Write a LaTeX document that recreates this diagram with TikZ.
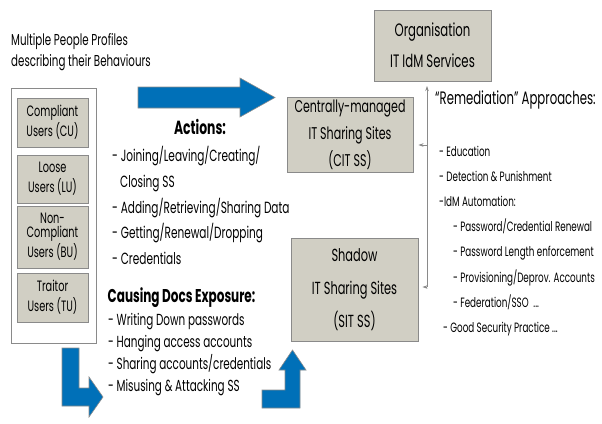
\documentclass[tikz,border=0pt]{standalone}
\usepackage{fontspec}
\setmainfont{Poppins}[FakeStretch=0.65]
\usetikzlibrary{arrows.meta,positioning}
\definecolor{boxfill}{HTML}{D1CFC4}
\definecolor{boxline}{HTML}{8A8A8A}
\definecolor{arrowblue}{HTML}{0070B8}
\tikzset{
  sitebox/.style={draw=boxline, line width=0.9pt, fill=boxfill, align=center, inner sep=0pt, font=\fontsize{18}{27}\selectfont},
  userbox/.style={draw=boxline, line width=0.9pt, fill=boxfill, align=center, inner sep=0pt, minimum width=71pt, font=\fontsize{15}{20}\selectfont},
  frame/.style={draw=boxline, line width=0.8pt, inner sep=0pt},
  plaintext/.style={align=left, inner sep=0pt, anchor=west},
  blockarrow/.style={fill=arrowblue, draw=boxline, line width=0.6pt},
  linkarrow/.style={-{Stealth[length=5pt,width=3.5pt]}, draw=boxline, line width=0.7pt}
}
\begin{document}
\begin{tikzpicture}[x=1pt, y=-1pt]
\useasboundingbox (0,0) rectangle (602,423);
% profiles of users
\node[plaintext, font=\fontsize{15.8}{21}\selectfont] (profiles) at (11,52.5) {Multiple People Profiles\\describing their Behaviours};
\node[frame, minimum width=85pt, minimum height=255pt] (people) at (53.5,215.5) {};
\node[userbox, minimum height=49pt] (cu) at (52.5,122.5) {Compliant\\Users (CU)};
\node[userbox, minimum height=48pt] (lu) at (52.5,179) {Loose\\Users (LU)};
\node[userbox, minimum height=62pt] (bu) at (52.5,237) {Non-\\[-6pt]Compliant\\Users (BU)};
\node[userbox, minimum height=49pt] (tu) at (52.5,297.5) {Traitor\\Users (TU)};
% sharing sites
\node[sitebox, minimum width=117pt, minimum height=71pt, font=\fontsize{18}{31}\selectfont] (org) at (432.5,45.5) {Organisation\\IT IdM Services};
\node[sitebox, minimum width=126pt, minimum height=75pt, font=\fontsize{17}{27}\selectfont] (cit) at (350,134.5) {Centrally-managed\\IT Sharing Sites\\(CIT SS)};
\node[sitebox, minimum width=127pt, minimum height=103pt, font=\fontsize{17.5}{33}\selectfont] (sit) at (354.5,289.5) {Shadow\\IT Sharing Sites\\(SIT SS)};
% actions and exposure
\node[inner sep=0pt, font=\fontsize{19}{20}\bfseries] (actions) at (200,127) {Actions:};
\node[plaintext, font=\fontsize{16.2}{25.75}\selectfont] (actlist) at (112,205.5) {- Joining/Leaving/Creating/\\\hspace*{8pt}Closing SS\\- Adding/Retrieving/Sharing Data\\- Getting/Renewal/Dropping\\- Credentials};
\node[inner sep=0pt, font=\fontsize{18.5}{20}\bfseries] (causing) at (181.5,298) {Causing Docs Exposure:};
\node[plaintext, font=\fontsize{16}{22}\selectfont] (causelist) at (108,355) {- Writing Down passwords\\- Hanging access accounts\\- Sharing accounts/credentials\\- Misusing \& Attacking SS};
% remediation
\node[plaintext, font=\fontsize{18}{24}\selectfont] (remed) at (435,100) {``Remediation'' Approaches:};
\node[plaintext, font=\fontsize{13.5}{25.1}\selectfont] (remlist) at (439,241) {- Education\\- Detection \& Punishment\\-IdM Automation:\\\hspace*{14pt}- Password/Credential Renewal\\\hspace*{14pt}- Password Length enforcement\\\hspace*{14pt}- Provisioning/Deprov. Accounts\\\hspace*{14pt}- Federation/SSO\ \ ...\\\hspace*{4pt}- Good Security Practice ...};
% feedback connectors
\coordinate (rtop) at (427,86);
\coordinate (rmid) at (427,145);
\coordinate (rbot) at (427,287);
\draw[linkarrow] (rbot) -- (rtop);
\draw[linkarrow, shorten >=5pt] (rmid) -- (rmid -| cit.east);
\draw[linkarrow, shorten >=4pt] (rbot) -- (rbot -| sit.east);
% block arrows
\draw[blockarrow] (138,87) -- (240,87) -- (240,78) -- (275,97.5) -- (240,117) -- (240,108) -- (138,108) -- cycle;
\draw[blockarrow] (62,348) -- (79,348) -- (79,388) -- (89,388) -- (89,377) -- (103,397) -- (89,417) -- (89,406) -- (62,406) -- cycle;
\draw[blockarrow] (262,390) -- (285,390) -- (285,370) -- (279,370) -- (292.5,350) -- (306,370) -- (300,370) -- (300,408) -- (262,408) -- cycle;
\end{tikzpicture}
\end{document}
